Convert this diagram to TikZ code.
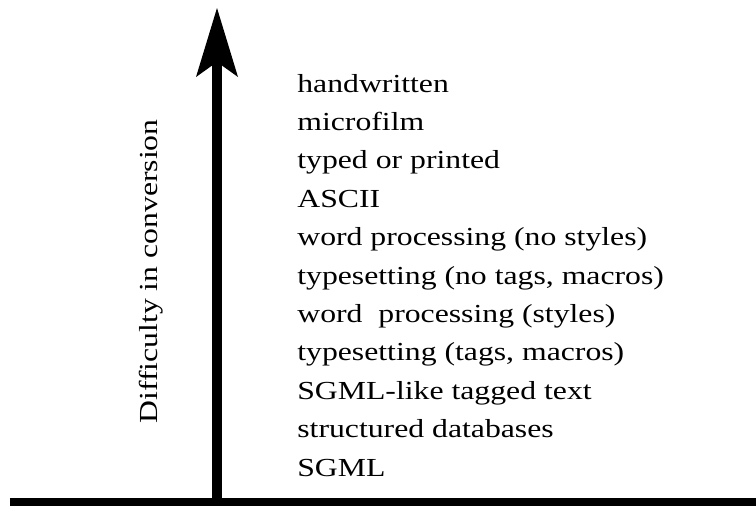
\documentclass[tikz,border=0pt]{standalone}
\usepackage{fontspec}
\setmainfont{Liberation Serif}[FakeStretch=1.22]
\usetikzlibrary{arrows.meta}
\begin{document}
\begin{tikzpicture}[>={Stealth[length=1.38cm,width=.84cm,inset=.3cm,line width=0pt]},
    every node/.style={inner sep=0pt,font=\fontsize{14.8}{17}\selectfont}]
    \useasboundingbox (0,0) rectangle (15.12,10.12);
    \coordinate (L) at (.2,.08);
    \coordinate (R) at (15.12,.08);
    \coordinate (O) at (4.34,.08);
    \coordinate (T) at (4.34,9.96);
    \draw[line width=.16cm] (L)--(R);
    \draw[->,line width=.21cm] (O)--(T);
    \node[rotate=90] (diff) at (3.02,4.69) {Difficulty in conversion};
    \foreach \t [count=\i from 0] in {handwritten, microfilm, typed or printed, ASCII,
        word processing (no styles), {typesetting (no tags, macros)}, word\ \ processing (styles),
        {typesetting (tags, macros)}, SGML-like tagged text, structured databases, SGML}
    {\node[anchor=base west] (f\i) at (5.94,8.28-.768*\i) {\t};}
\end{tikzpicture}
\end{document}
